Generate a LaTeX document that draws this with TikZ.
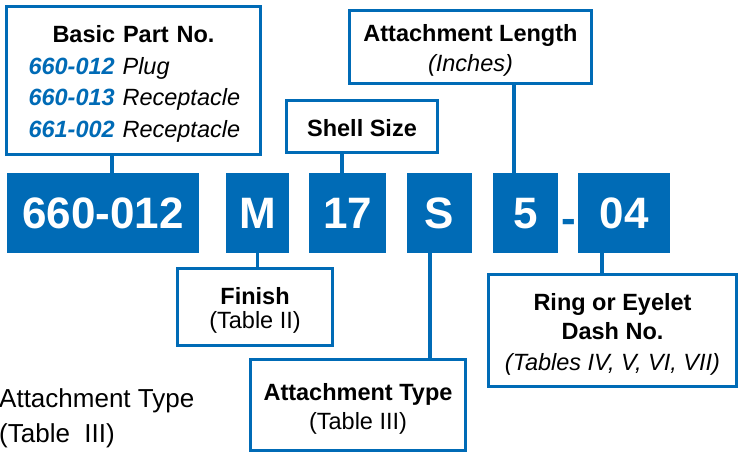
\documentclass[tikz,border=0pt]{standalone}
\usepackage{fontspec}
\setmainfont{Liberation Sans}
\definecolor{partblue}{RGB}{0,107,182}
\tikzset{
	codebox/.style={fill=partblue, text=white, inner sep=0pt, minimum height=80pt, text height=31.5pt, text depth=0pt, font=\fontsize{44}{44}\selectfont\bfseries},
	infobox/.style={draw=partblue, line width=3.3pt, fill=white, inner sep=0pt, align=center, font=\fontsize{23.5}{29}\selectfont},
	link/.style={draw=partblue, line width=3.3pt}
}
\newcommand{\pno}[1]{\textcolor{partblue}{\bfseries\itshape #1}}
\newcommand{\lift}{\rule{0pt}{24pt}}

\begin{document}
\begin{tikzpicture}[x=1pt, y=-1pt]
	\useasboundingbox (0,0) rectangle (744,456);
	\node [codebox, minimum width=192pt] (pn) at (103,213) {660-012};
	\node [codebox, minimum width=63pt] (fin) at (257.5,213) {M};
	\node [codebox, minimum width=77pt] (size) at (347.5,213) {17};
	\node [codebox, minimum width=65pt] (type) at (439.5,213) {S};
	\node [codebox, minimum width=65pt] (length) at (525.5,213) {5};
	\node [codebox, fill=none, text=partblue, anchor=base, minimum height=0pt, text height=0pt] (dash) at (569,233) {-};
	\node [codebox, minimum width=92pt] (ring) at (624,213) {04};
	\node [infobox, minimum width=253.7pt, minimum height=147.7pt, text width=224pt, align=left, font=\fontsize{23.5}{31.5}\selectfont] (bpn) at (133.5,80.5) {\lift\makebox[\linewidth]{\textbf{Basic Part No.}}\\\hspace*{7pt}\pno{660-012} \textit{Plug}\\\hspace*{7pt}\pno{660-013} \textit{Receptacle}\\\hspace*{7pt}\pno{661-002} \textit{Receptacle}};
	\node [infobox, minimum width=241.7pt, minimum height=72.7pt, font=\fontsize{23.5}{30}\selectfont] (lenbox) at (470.5,47) {\lift\textbf{Attachment Length}\\\textit{(Inches)}};
	\node [infobox, minimum width=150.7pt, minimum height=51.7pt] (sizebox) at (362,126.5) {\rule{0pt}{21pt}\textbf{Shell Size}};
	\node [infobox, minimum width=154.7pt, minimum height=76.7pt, font=\fontsize{23.5}{24.5}\selectfont] (finbox) at (255,307) {\lift\textbf{Finish}\\(Table II)};
	\node [infobox, minimum width=214.7pt, minimum height=90.7pt] (typebox) at (358,405) {\lift\textbf{Attachment Type}\\(Table III)};
	\node [infobox, minimum width=247.7pt, minimum height=111.7pt] (ringbox) at (612.5,330.5) {\lift\textbf{Ring or Eyelet}\\\textbf{Dash No.}\\[2pt]\textit{(Tables IV, V, VI, VII)}};
	\node [anchor=base west, align=left, inner sep=0pt, font=\fontsize{26}{35}\selectfont] (typenote) at (-1,442) {Attachment Type\\(Table\ \ III)};
	\draw [link] ([xshift=-21.5pt]bpn.south) -- ([xshift=-21.5pt]bpn.south |- pn.north);
	\draw [link] ([xshift=-20pt]sizebox.south) -- ([xshift=-20pt]sizebox.south |- size.north);
	\draw [link] ([xshift=43.5pt]lenbox.south) -- ([xshift=43.5pt]lenbox.south |- length.north);
	\draw [link] (fin.south) -- (fin.south |- finbox.north);
	\draw [link] ([xshift=-9.5pt]type.south) -- ([xshift=-9.5pt]type.south |- typebox.north);
	\draw [link] ([xshift=-22pt]ring.south) -- ([xshift=-22pt]ring.south |- ringbox.north);
\end{tikzpicture}
\end{document}
